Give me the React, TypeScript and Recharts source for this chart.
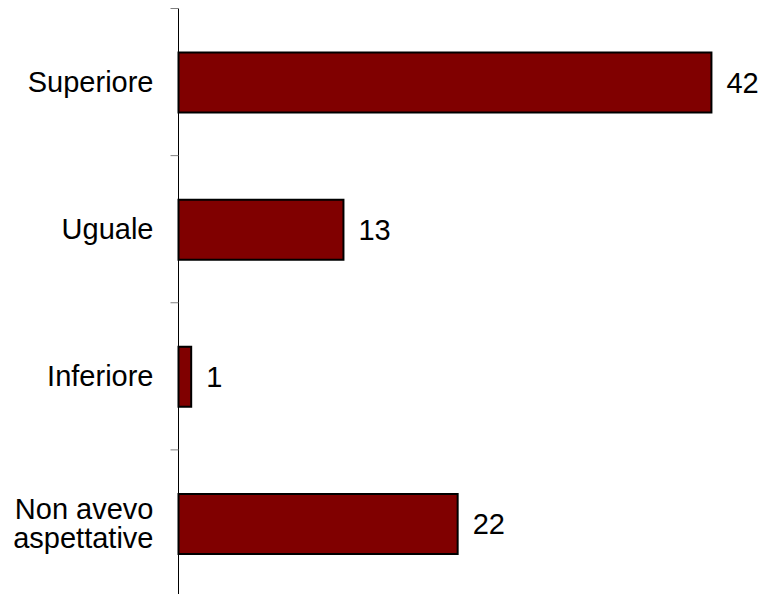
import React from 'react';
import { BarChart, Bar, XAxis, YAxis, LabelList } from 'recharts';

const categories = ['Superiore', 'Uguale', 'Inferiore', 'Non avevo\naspettative'];
const counts = [42, 13, 1, 22];

const data = categories.map((name, i) => ({ name, value: counts[i] }));

const FONT = 'Arial, "Liberation Sans", sans-serif';
const TICK_MARGIN = 25;
const TICK_LEN = 8;

// label + tick marks at the band edges (Excel style)
const CategoryTick = (props: any) => {
  const { x, y, payload, index, visibleTicksCount } = props;
  const lines = String(payload.value).split('\n');
  const lineHeight = 29;
  const startDy = -((lines.length - 1) * lineHeight) / 2;
  const half = payload.offset || 0;
  const axisX = x + TICK_MARGIN;
  const isLast = index === visibleTicksCount - 1;
  return (
    <g>
      <line x1={axisX - TICK_LEN} x2={axisX} y1={y - half} y2={y - half} stroke="#808080" strokeWidth={1} />
      {isLast && <line x1={axisX - TICK_LEN} x2={axisX} y1={y + half} y2={y + half} stroke="#808080" strokeWidth={1} />}
      <text x={x} y={y} textAnchor="end" fontSize={29} fontFamily={FONT} fill="#000">
        {lines.map((line, i) => (
          <tspan key={i} x={x} dy={i === 0 ? startDy + 10 : lineHeight}>
            {line}
          </tspan>
        ))}
      </text>
    </g>
  );
};

const App: React.FC = () => {
  return (
    <div style={{ position: 'absolute', top: 0, left: 0, width: 763, height: 594, overflow: 'hidden', background: '#fff' }}>
      <BarChart
        width={763}
        height={597}
        data={data}
        layout="vertical"
        margin={{ top: 8.5, right: 13.5, bottom: 0, left: 0 }}
        barSize={60}
      >
        <XAxis type="number" domain={[0, 45]} hide />
        <YAxis
          type="category"
          dataKey="name"
          width={178.5}
          axisLine={{ stroke: '#000' }}
          tickLine={false}
          tickSize={0}
          tickMargin={TICK_MARGIN}
          tick={<CategoryTick />}
        />
        <Bar dataKey="value" fill="#800000" stroke="#000" strokeWidth={2} isAnimationActive={false}>
          <LabelList dataKey="value" position="right" offset={15} fontSize={29} fontFamily={FONT} fill="#000" />
        </Bar>
      </BarChart>
    </div>
  );
};

export default App;
